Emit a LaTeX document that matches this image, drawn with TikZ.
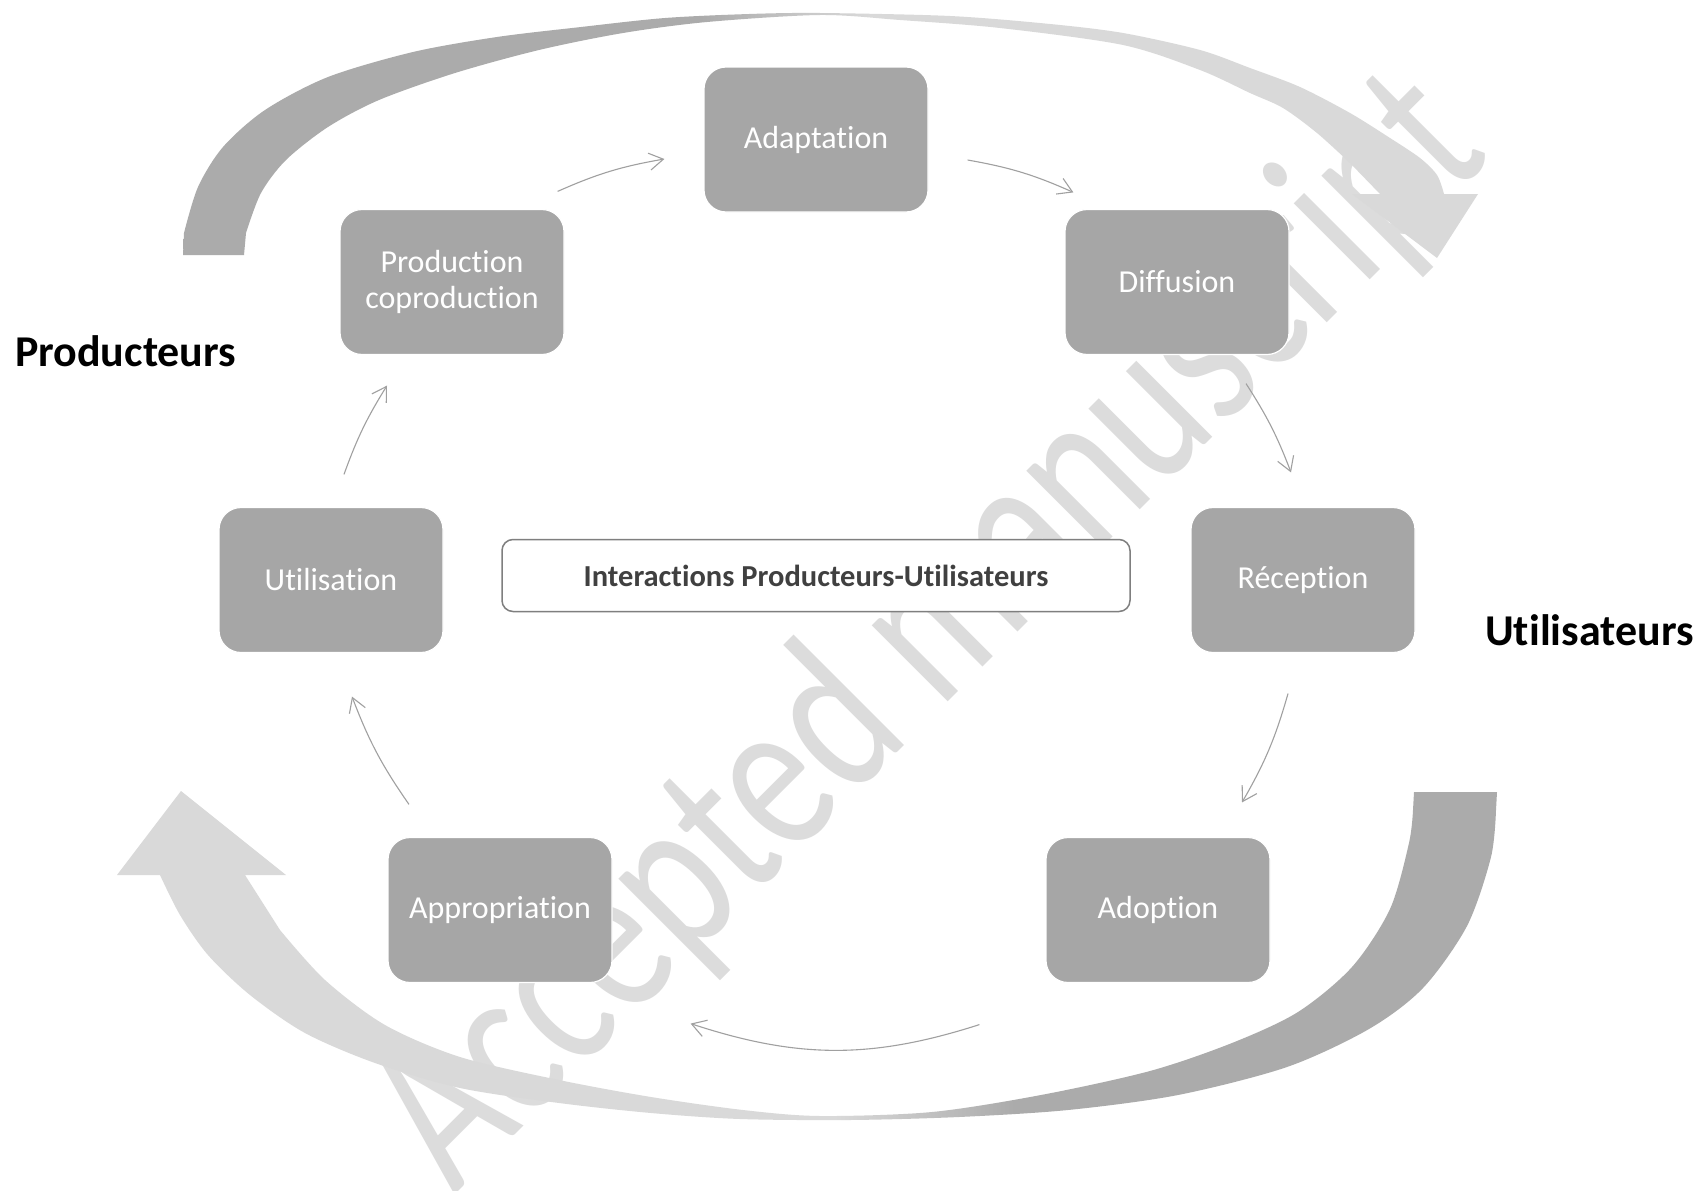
\documentclass[tikz,border=0pt]{standalone}
\usepackage{fontspec}
\setmainfont{Carlito}[Ligatures={NoCommon}]
\usetikzlibrary{arrows.meta}
\definecolor{boxgray}{HTML}{A6A6A6}
\definecolor{arrdark}{HTML}{ABABAB}
\definecolor{arrlight}{HTML}{D9D9D9}
\definecolor{wmgray}{HTML}{DCDCDC}
\definecolor{conngray}{HTML}{A0A0A0}
\definecolor{cframe}{HTML}{7F7F7F}
\definecolor{ctext}{HTML}{404040}
\pgfdeclarehorizontalshading{topgrad}{100bp}{color(0bp)=(arrdark); color(45bp)=(arrdark); color(51.5bp)=(arrlight); color(100bp)=(arrlight)}
\pgfdeclarehorizontalshading{botgrad}{100bp}{color(0bp)=(arrlight); color(51bp)=(arrlight); color(57.5bp)=(arrdark); color(100bp)=(arrdark)}
\begin{document}
\begin{tikzpicture}[x=1pt,y=-1pt,
  stage/.style={rectangle, rounded corners=22pt, fill=boxgray, draw=white, line width=1.2pt,
    minimum width=224pt, minimum height=145pt, inner sep=0pt, text=white,
    font=\fontsize{32}{36}\selectfont, align=center},
  conn/.style={draw=conngray, line width=1.1pt, -{Straight Barb[length=14pt,width=17pt]}},
  sidelabel/.style={anchor=base west, inner sep=0pt, font=\bfseries\fontsize{44}{50}\selectfont, text=black}]
\useasboundingbox (0,0) rectangle (1706,1191);
\fill[white] (0,0) rectangle (1706,1191);

% watermark
\node[rotate=45, anchor=base west, inner sep=0pt, text=wmgray,
      font=\fontsize{225}{230}\selectfont] (wm) at (454,1196) {\scalebox{0.76}[1]{Accepted manuscript}};

% top curved arrow
\shade[shading=topgrad] (183,255) -- plot[smooth] coordinates {(184,233) (198,187) (223,147) (265,110) (328,77) (413,52) (497,37) (581,27) (665,18) (749,14) (820,13) (950,16) (1050,24) (1123,33) (1200,50) (1250,68) (1300,87) (1350,113) (1390,138) (1420,158) (1437,175) (1444,194)}
  -- (1478,194) -- (1437,258) -- (1352,194) -- (1380,194)
  -- plot[smooth] coordinates {(1350,163) (1317,133) (1283,108) (1250,93) (1200,70) (1123,45) (1000,28) (900,20) (820,15) (707,22) (623,33) (539,50) (455,73) (379,100) (328,127) (286,160) (261,193) (246,233)}
  -- (244,255) -- cycle;

% bottom curved arrow
\shade[shading=botgrad] (1497,792) -- plot[smooth] coordinates {(1496,810) (1491,857) (1467,926) (1423,988) (1369,1029) (1287,1067) (1178,1095) (1068,1110) (959,1117) (850,1120) (740,1119) (651,1113) (559,1103) (460,1088) (375,1063) (305,1033) (250,995) (208,955) (180,915) (160,875)}
  -- (117,875) -- (181,791) -- (286,875) -- (245,875)
  -- plot[smooth] coordinates {(280,930) (325,980) (385,1025) (460,1057) (559,1080) (651,1097) (743,1110) (820,1116) (932,1112) (1041,1095) (1150,1071) (1232,1043) (1298,1012) (1352,967) (1390,909) (1409,843) (1413,810)}
  -- (1414,792) -- cycle;

% stages
\node[stage] (adapt) at (816,139.5) {Adaptation};
\node[stage] (prod)  at (452,282) {Production\\coproduction};
\node[stage] (diff)  at (1177,282) {Diffusion};
\node[stage] (recep) at (1303,580) {Réception};
\node[stage] (adopt) at (1158,910) {Adoption};
\node[stage] (appro) at (500,910) {Appropriation};
\node[stage] (util)  at (331,580) {Utilisation};

% centre box
\node[draw=cframe, line width=1.5pt, fill=white, rounded corners=11pt, minimum width=628pt,
      minimum height=72pt, inner sep=0pt, text=ctext, font=\bfseries\fontsize{30.5}{36}\selectfont]
      (centre) at (816,575.5) {Interactions Producteurs-Utilisateurs};

% side labels
\node[sidelabel] (prodlbl) at (15,366) {Producteurs};
\node[sidelabel] (userlbl) at (1485,645) {Utilisateurs};

% connectors
\draw[conn] ([shift={(-7,-17.5)}]prod.north east) to[bend left=7] ([shift={(-39,19.5)}]adapt.west);
\draw[conn] ([shift={(39,20.5)}]adapt.east) to[bend left=7] ([shift={(9,-16.5)}]diff.north west);
\draw[conn] ([shift={(69,28.5)}]diff.south) to[bend left=6] ([shift={(-12,-34.5)}]recep.north);
\draw[conn] ([shift={(-15,40.5)}]recep.south) to[bend left=7] ([shift={(84,-34.5)}]adopt.north);
\draw[conn] ([shift={(-66,41.5)}]adopt.south west) to[bend left=18] ([shift={(78,40.5)}]appro.south east);
\draw[conn] ([shift={(-91,-32.5)}]appro.north) to[bend left=7] ([shift={(21,43.5)}]util.south);
\draw[conn] ([shift={(13,-32.5)}]util.north) to[bend left=6] ([shift={(-65,30.5)}]prod.south);
\end{tikzpicture}
\end{document}
